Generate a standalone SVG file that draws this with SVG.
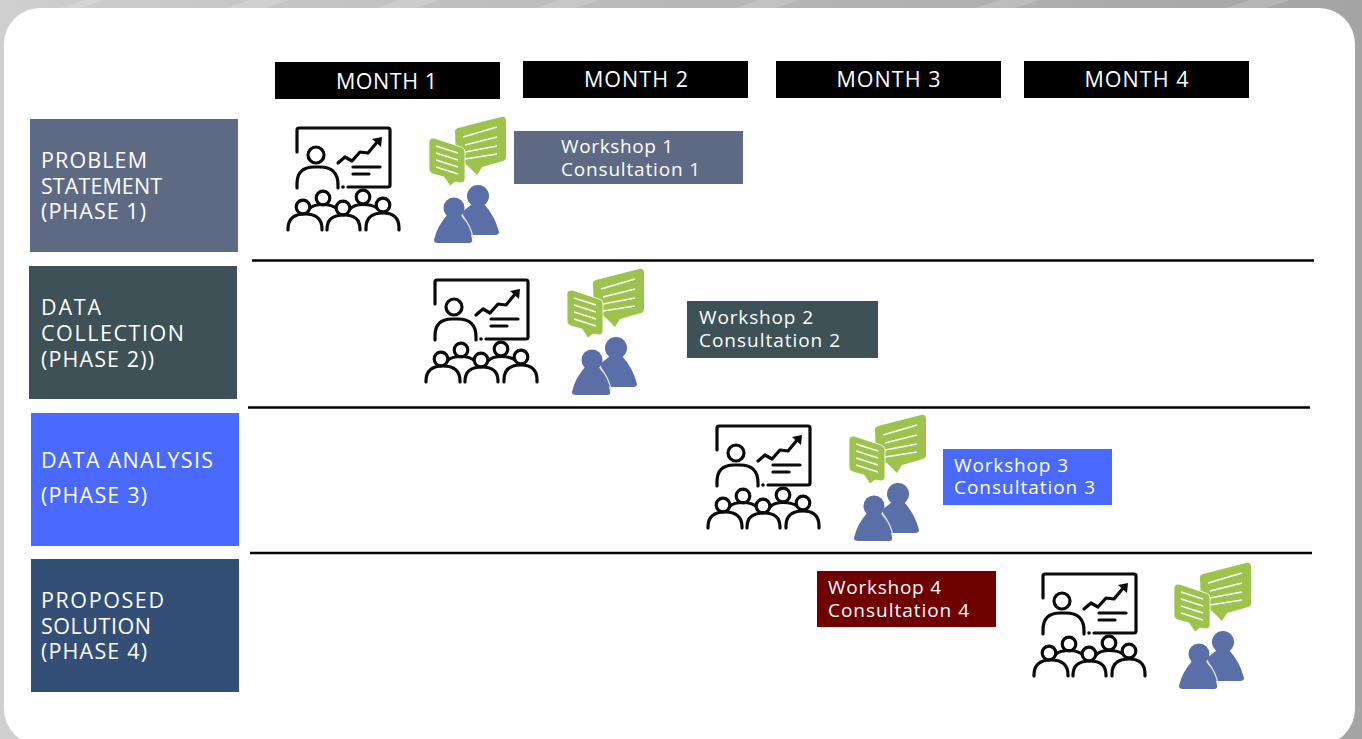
<svg xmlns="http://www.w3.org/2000/svg" width="1362" height="739" viewBox="0 0 1362 739">
<style>
.t{font-family:"Open Sans","Noto Sans","Liberation Sans",sans-serif;fill:#fff}
.m{font-size:21.500px}
.p{font-size:21.500px}
.w{font-size:19px}
.s{fill:none;stroke:#0a0a0a;stroke-width:3.2;stroke-linecap:round;stroke-linejoin:round}
.g{fill:#9dc34d}
.wl{fill:none;stroke:#fff;stroke-width:1.400}
.b{fill:#5a6ea8}
.r{stroke:#000;stroke-width:2.500}
</style>
<defs>
<linearGradient id="bg" x1="0" y1="0" x2="1" y2="0">
<stop offset="0" stop-color="#cfcfcf"/><stop offset=".5" stop-color="#b8b8b8"/><stop offset="1" stop-color="#a4a4a4"/>
</linearGradient>
<g id="presenter">
<path class="s" d="M297 152V130Q297 128 299 128H388Q390 128 390 130V185Q390 187 388 187H348"/>
<circle class="s" cx="316" cy="155" r="8"/>
<path class="s" d="M297 188V184Q297 167 314 167H320Q338 167 338 185V188"/>
<path class="s" d="M338 163L345 157L352 161L360 152L368 153L378 141"/>
<path d="M372 139L382 137L381 147Z" fill="#0a0a0a"/>
<path class="s" d="M353 167H380M353 174H369"/>
<circle cx="343" cy="187" r="1.800" fill="#0a0a0a"/>
<circle class="s" cx="323" cy="198" r="6.800"/><circle class="s" cx="363" cy="197" r="6.800"/>
<path class="s" d="M310 208Q314 204.500 323 204.500Q332 204.500 337 209M350 209Q354 204.500 363 204.500Q372 204.500 377 208"/>
<circle class="s" cx="303" cy="207" r="6.800" style="fill:#fff"/><circle class="s" cx="343" cy="208" r="6.800" style="fill:#fff"/><circle class="s" cx="383" cy="205" r="6.800" style="fill:#fff"/>
<path class="s" d="M288 230V229Q288 214 305 214Q322 214 322 229V230"/>
<path class="s" d="M327 230V229Q327 215 344 215Q360 215 360 229V230"/>
<path class="s" d="M366 230V228Q366 213 383 213Q399 213 399 228V230"/>
</g>
<g id="chat">
<path class="g" d="M455 131Q455 129 458 128L501 117Q506 116 506 121V158Q506 160 503 161L482 167L477 175L467 165L460 162Q456 161 456 159Z"/>
<path class="g" stroke="#fff" stroke-width="0.800" d="M434 138L461 147Q465 148 465 152V179Q465 183 461 183L455 182L450 186L444 177L433 174Q429 173 429 169V142Q429 138 434 138Z"/>
<path class="wl" d="M436 146L458 153M436 153L458 160M436 160L458 167M436 167L458 174M463 137L497 127M465 145L497 137M465 152L497 146M465 159L497 154"/>
<circle class="b" cx="478" cy="196" r="11"/>
<path class="b" d="M472 204H484Q495 216 499 232Q499 235 495 235H470L462 212Z"/>
<circle class="b" cx="454" cy="208" r="10.500"/>
<path class="b" d="M448 214H460Q470 226 472 239Q473 243 469 243H438Q434 243 434 240Q437 226 448 214Z"/>
<path fill="none" stroke="#dfe3ee" stroke-width="1.200" d="M462 215Q471 226 473 238"/>
</g>
</defs>
<rect width="1362" height="739" fill="url(#bg)"/>
<g fill="#fff" opacity=".18">
<path d="M85 0H105L80 8H60ZM250 0H290L265 8H225ZM400 0H440L415 8H375ZM560 0H600L575 8H535ZM760 0H800L775 8H735ZM1000 0H1040L1015 8H975ZM1250 0H1290L1265 8H1225Z"/>
</g>
<rect x="4" y="8" width="1351" height="737" rx="36" fill="#fff"/>
<g id="connectors">
<path d="M252 260.500H1314" class="r"/>
<path d="M248 407.500H1310" class="r"/>
<path d="M250 553H1312" class="r"/>
</g>
<g id="month1"><rect x="275" y="62" width="225" height="37"/><text class="t m" x="336" y="88.500" textLength="101">MONTH 1</text></g>
<g id="month2"><rect x="523" y="61" width="225" height="37"/><text class="t m" x="584" y="86.500" textLength="104">MONTH 2</text></g>
<g id="month3"><rect x="776" y="61" width="225" height="37"/><text class="t m" x="836.500" y="86.500" textLength="104">MONTH 3</text></g>
<g id="month4"><rect x="1024" y="61" width="225" height="37"/><text class="t m" x="1084.500" y="86.500" textLength="104">MONTH 4</text></g>
<g id="phase1"><rect x="30" y="119" width="208" height="133" fill="#5e6a83"/>
<text class="t p" x="41" y="168" textLength="106">PROBLEM</text><text class="t p" x="41" y="194" textLength="121">STATEMENT</text><text class="t p" x="41" y="219" textLength="105">(PHASE 1)</text></g>
<g id="phase2"><rect x="29" y="266" width="208" height="133" fill="#3d5156"/>
<text class="t p" x="41" y="315" textLength="60">DATA</text><text class="t p" x="41" y="341" textLength="143">COLLECTION</text><text class="t p" x="41" y="367" textLength="113">(PHASE 2))</text></g>
<g id="phase3"><rect x="31" y="413" width="208" height="133" fill="#4a69ff"/>
<text class="t p" x="41" y="468" textLength="172">DATA ANALYSIS</text><text class="t p" x="41" y="503" textLength="106">(PHASE 3)</text></g>
<g id="phase4"><rect x="31" y="559" width="208" height="133" fill="#344f75"/>
<text class="t p" x="41" y="608" textLength="123">PROPOSED</text><text class="t p" x="41" y="634" textLength="110">SOLUTION</text><text class="t p" x="41" y="659" textLength="106">(PHASE 4)</text></g>
<g id="session1"><use href="#presenter"/><use href="#chat"/>
<rect x="514" y="131" width="229" height="53" fill="#5e6a83"/><text class="t w" x="561" y="153" textLength="112">Workshop 1</text><text class="t w" x="561" y="176" textLength="139">Consultation 1</text></g>
<g id="session2"><use href="#presenter" transform="translate(138 152)"/><use href="#chat" transform="translate(138 152)"/>
<rect x="687" y="301" width="191" height="57" fill="#3d5156"/><text class="t w" x="699" y="324" textLength="114">Workshop 2</text><text class="t w" x="699" y="347" textLength="141">Consultation 2</text></g>
<g id="session3"><use href="#presenter" transform="translate(420 298)"/><use href="#chat" transform="translate(420 298)"/>
<rect x="943" y="449" width="169" height="56" fill="#4a69ff"/><text class="t w" x="954" y="472" textLength="114">Workshop 3</text><text class="t w" x="954" y="494" textLength="141">Consultation 3</text></g>
<g id="session4"><use href="#presenter" transform="translate(746 446)"/><use href="#chat" transform="translate(745 446)"/>
<rect x="817" y="571" width="179" height="56" fill="#6e0000"/><text class="t w" x="828" y="594" textLength="113">Workshop 4</text><text class="t w" x="828" y="617" textLength="141">Consultation 4</text></g>
</svg>
